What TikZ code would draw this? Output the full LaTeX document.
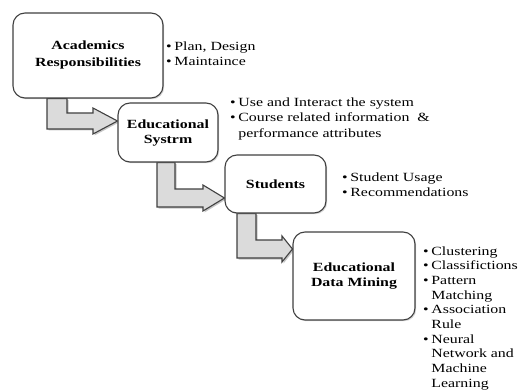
\documentclass[tikz,border=0pt]{standalone}
\usepackage{fontspec}
\setmainfont{Liberation Serif}
\usetikzlibrary{shadows,backgrounds}
\newcommand{\sx}[1]{\scalebox{1.27}[1]{#1}}
\tikzset{
  box/.style={draw=black!75, line width=1.1pt, rounded corners=12pt, fill=white,
    align=center, inner sep=0pt,
    font=\fontsize{12.5}{15}\selectfont\bfseries,
    drop shadow={shadow xshift=1.2pt, shadow yshift=-1.2pt, opacity=0.35}},
  notes/.style={anchor=base west, inner sep=0pt, font=\fontsize{12.5}{15}\selectfont},
  bent/.style={fill=black!14, draw=black!75, line width=1.1pt, line join=miter,
    drop shadow={shadow xshift=1.5pt, shadow yshift=-1.5pt, opacity=0.45}}
}
\begin{document}
\begin{tikzpicture}[x=1pt,y=-1pt]
\useasboundingbox (0,0) rectangle (518,390);
% boxes
\node[box, minimum width=150pt, minimum height=85pt] (a) at (88,55.5)
  {\sx{\begin{tabular}{@{}c@{}}Academics\\[2pt]Responsibilities\end{tabular}}};
\node[box, minimum width=100pt, minimum height=59pt] (b) at (168,132.5)
  {\sx{\begin{tabular}{@{}c@{}}Educational\\Systrm\end{tabular}}};
\node[box, minimum width=101pt, minimum height=58pt] (c) at (275.5,184)
  {\sx{Students}};
\node[box, minimum width=122pt, minimum height=88pt] (d) at (354,276)
  {\sx{\begin{tabular}{@{}c@{}}Educational\\Data Mining\end{tabular}}};
% bent arrows
\begin{scope}[on background layer]
\draw[bent] (47,0 |- a.south) -- (47,129) -- (93,129) -- (93,134) -- (b.west |- 0,121)
  -- (93,108) -- (93,113) -- (67,113) -- (67,0 |- a.south) -- cycle;
\draw[bent] (157,0 |- b.south) -- (157,207) -- (203,207) -- (203,211) -- (c.west |- 0,198)
  -- (203,185) -- (203,189) -- (175,189) -- (175,0 |- b.south) -- cycle;
\draw[bent] (237,0 |- c.south) -- (237,258) -- (282,258) -- (282,262) -- (d.west |- 0,249)
  -- (282,236) -- (282,240) -- (256,240) -- (256,0 |- c.south) -- cycle;
\end{scope}
% notes
\node[notes] (na) at (166,51)
  {\sx{\begin{tabular}[t]{@{}l@{\,}l@{}}•&Plan, Design\\•&Maintaince\end{tabular}}};
\node[notes] (nb) at (230,107)
  {\sx{\begin{tabular}[t]{@{}l@{\,}l@{}}•&Use and Interact the system\\•&Course related information\ \ \&\\&performance attributes\end{tabular}}};
\node[notes] (nc) at (342,181)
  {\sx{\begin{tabular}[t]{@{}l@{\,}l@{}}•&Student Usage\\•&Recommendations\end{tabular}}};
\node[notes, font=\fontsize{12.5}{14.7}\selectfont] (nd) at (423,255)
  {\sx{\begin{tabular}[t]{@{}l@{\,}l@{}}•&Clustering\\•&Classifictions\\•&Pattern\\&Matching\\•&Association\\&Rule\\•&Neural\\&Network and\\&Machine\\&Learning\end{tabular}}};
\end{tikzpicture}
\end{document}
